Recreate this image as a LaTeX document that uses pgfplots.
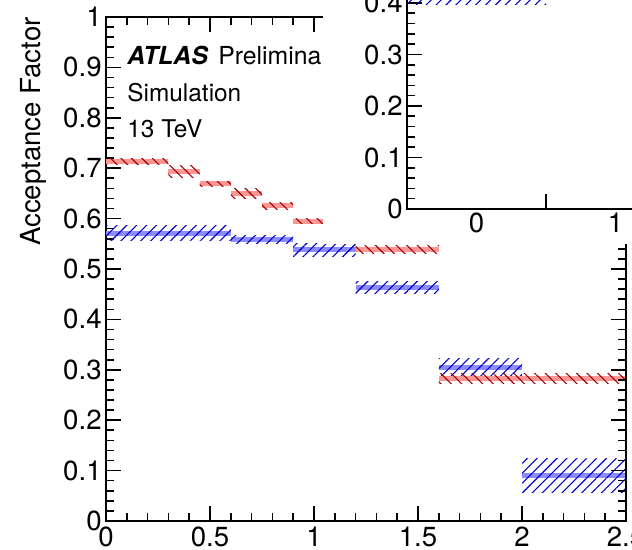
\documentclass[border=0pt]{standalone}
\usepackage{fontspec}
\setmainfont{TeX Gyre Heros}
\usepackage{pgfplots}
\pgfplotsset{compat=1.18}
\usepackage{pgfplotstable}
\usetikzlibrary{patterns.meta}

\definecolor{bandred}{RGB}{255,150,150}
\definecolor{hatchred}{RGB}{160,0,0}
\definecolor{bandblue}{RGB}{140,140,255}
\definecolor{hatchblue}{RGB}{0,0,200}

% central values: bin left edges, value (last row closes the last bin)
\pgfplotstableread{
x y
0.00 0.571
0.60 0.559
0.90 0.538
1.20 0.464
1.60 0.305
2.00 0.090
2.50 0.090
}\bluetab

\pgfplotstableread{
x y
0.00 0.713
0.30 0.694
0.45 0.669
0.60 0.649
0.75 0.625
0.90 0.595
1.05 0.575
1.20 0.539
1.60 0.283
2.00 0.283
2.50 0.283
}\redtab

\pgfplotstableread{
x y
-0.5 0.430
0.5 0.430
}\insettab

% uncertainty box: x0, x1, lower edge, upper edge, style
\newcommand{\errbox}[5]{\addplot[draw=none, forget plot, #5] coordinates {(#1,#3) (#2,#3) (#2,#4) (#1,#4)} -- cycle;}

\tikzset{
  blueh/.style={pattern={Lines[angle=45, distance=3.5pt, line width=0.55pt]}, pattern color=hatchblue},
  redh/.style={pattern={Lines[angle=-45, distance=3.7pt, line width=0.55pt]}, pattern color=hatchred},
}

\pgfplotsset{
  rootstyle/.style={
    scale only axis,
    tick align=inside,
    major tick length=7.5pt,
    minor tick length=3.8pt,
    every tick/.style={black, line width=0.8pt},
    axis line style={line width=0.9pt},
    ticklabel style={font=\fontsize{13.8}{14}\selectfont},
    /pgf/number format/assume math mode=true,
    yticklabel style={inner sep=2pt},
    xticklabel style={inner sep=2.6pt},
  },
}

\begin{document}
\begin{tikzpicture}

\begin{axis}[
  rootstyle,
  width=260pt, height=252pt,
  at={(53pt,14.5pt)}, anchor=south west,
  xmin=0, xmax=2.5, ymin=0, ymax=1,
  xtick={0,0.5,1,1.5,2,2.5}, minor x tick num=4,
  ytick={0,0.1,0.2,0.3,0.4,0.5,0.6,0.7,0.8,0.9,1}, minor y tick num=4,
  xtick pos=bottom, ytick pos=left,
  ylabel={Acceptance Factor},
  ylabel style={at={(rel axis cs:-0.125,1)}, anchor=base east, inner sep=0pt,
    font=\fontsize{13.8}{14}\selectfont},
]
% blue series
\addplot[jump mark left, bandblue, line width=2.5pt, forget plot] table[x=x, y=y] {\bluetab};
\errbox{0.00}{0.60}{0.556}{0.586}{blueh}
\errbox{0.60}{0.90}{0.551}{0.567}{blueh}
\errbox{0.90}{1.20}{0.525}{0.551}{blueh}
\errbox{1.20}{1.60}{0.452}{0.476}{blueh}
\errbox{1.60}{2.00}{0.288}{0.322}{blueh}
\errbox{2.00}{2.50}{0.056}{0.124}{blueh}
% red series
\addplot[jump mark left, bandred, line width=2.5pt, forget plot] table[x=x, y=y] {\redtab};
\errbox{0.00}{0.30}{0.707}{0.719}{redh}
\errbox{0.30}{0.45}{0.682}{0.706}{redh}
\errbox{0.45}{0.60}{0.664}{0.674}{redh}
\errbox{0.60}{0.75}{0.639}{0.659}{redh}
\errbox{0.75}{0.90}{0.619}{0.631}{redh}
\errbox{0.90}{1.05}{0.590}{0.600}{redh}
\errbox{1.05}{1.20}{0.567}{0.583}{redh}
\errbox{1.20}{1.60}{0.531}{0.547}{redh}
\errbox{1.60}{2.00}{0.273}{0.293}{redh}
\errbox{2.00}{2.50}{0.273}{0.293}{redh}

\node[anchor=base west, inner sep=0pt, font=\fontsize{12.4}{14}\selectfont] at (rel axis cs:0.0404,0.9067) {\textbf{\textit{ATLAS}}\hspace{5pt}Preliminary};
\node[anchor=base west, inner sep=0pt, font=\fontsize{12.2}{14}\selectfont] at (rel axis cs:0.0404,0.8323) {Simulation};
\node[anchor=base west, inner sep=0pt, font=\fontsize{12.2}{14}\selectfont] at (rel axis cs:0.0404,0.7599) {13 TeV};
\end{axis}

% mirrored ticks along the top edge of the main frame (pointing down into it)
\begin{axis}[
  rootstyle,
  width=260pt, height=10pt,
  at={(53pt,266.5pt)}, anchor=south west,
  xmin=0, xmax=2.5, ymin=0, ymax=1,
  xtick={0,0.5,1,1.5,2,2.5}, minor x tick num=4,
  xticklabels={},
  hide y axis, axis x line*=bottom, axis line style={-, line width=0.9pt},
  tick align=outside,
]
\end{axis}

% mirrored ticks along the right edge of the main frame (pointing left into it)
\begin{axis}[
  rootstyle,
  width=10pt, height=252pt,
  at={(313pt,14.5pt)}, anchor=south west,
  xmin=0, xmax=1, ymin=0, ymax=1,
  ytick={0,0.1,0.2,0.3,0.4,0.5,0.6,0.7,0.8,0.9,1}, minor y tick num=4,
  yticklabels={},
  hide x axis, axis y line*=left, axis line style={-, line width=0.9pt},
  tick align=outside,
]
\end{axis}

% inset pad background
\fill[white] (161.5pt,153pt) rectangle (330pt,290pt);

\begin{axis}[
  rootstyle,
  width=139pt, height=257.5pt,
  at={(203.5pt,170.5pt)}, anchor=south west,
  xmin=-0.5, xmax=1.5, ymin=0, ymax=1,
  xtick={0.5}, xticklabels={},
  extra x ticks={0,1}, extra x tick labels={0,1},
  extra x tick style={major tick length=0pt},
  ytick={0,0.1,0.2,0.3,0.4,0.5,0.6,0.7,0.8,0.9,1}, minor y tick num=4,
  xticklabel style={inner sep=2pt},
]
\addplot[jump mark left, bandblue, line width=2.5pt, forget plot] table[x=x, y=y] {\insettab};
\errbox{-0.5}{0.5}{0.397}{0.463}{blueh}
\end{axis}

\pgfresetboundingbox
\path[use as bounding box] (0,0) rectangle (316pt,275pt);
\end{tikzpicture}
\end{document}
